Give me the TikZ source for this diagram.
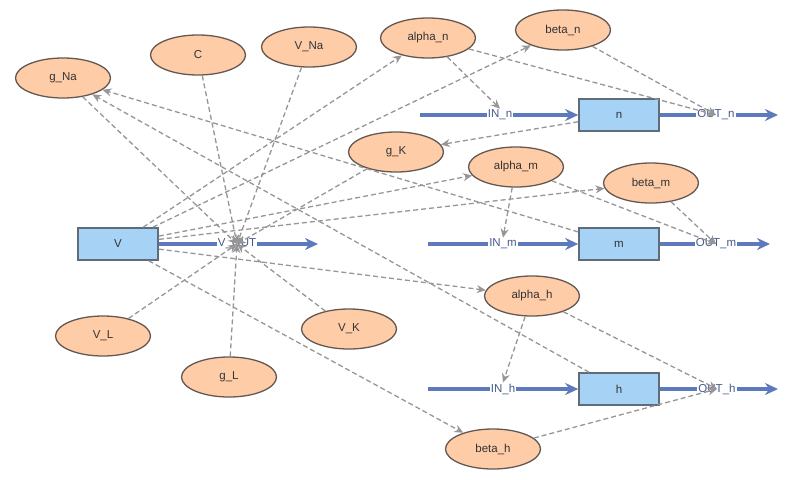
\documentclass[tikz,border=0pt]{standalone}
\usepackage{fontspec}
\setmainfont{Liberation Sans}
\usepackage{tikz}
\usetikzlibrary{shapes.geometric,arrows.meta}
\definecolor{peach}{RGB}{255,204,168}
\definecolor{ellborder}{RGB}{100,88,80}
\definecolor{boxblue}{RGB}{166,210,245}
\definecolor{boxborder}{RGB}{95,108,122}
\definecolor{flowblue}{RGB}{92,122,188}
\definecolor{portblue}{RGB}{70,90,140}
\definecolor{depgrey}{RGB}{150,150,150}

\begin{document}
\begin{tikzpicture}[x=1pt, y=-1pt, font=\fontsize{11.5}{13}\selectfont,
		param/.style={ellipse, draw=ellborder, line width=1.3pt, fill=peach, minimum width=95pt, minimum height=40pt, inner sep=0pt, text=black!80},
		state/.style={rectangle, draw=boxborder, line width=1.6pt, fill=boxblue, minimum width=80pt, minimum height=32pt, inner sep=0pt, text=black!80},
		port/.style={fill=white, inner sep=1pt, text=portblue},
		dep/.style={draw=depgrey, line width=1.3pt, dash pattern=on 5pt off 3pt, -{Stealth[length=9pt,width=8pt]}},
		flow/.style={draw=flowblue, line width=3.5pt, -{Stealth[length=13pt,width=12pt]}}]
				\useasboundingbox (0,0) rectangle (800,479);
				\node[param] (gNa) at (63,78) {g\_Na};
				\node[param] (C) at (198,55) {C};
				\node[param] (VNa) at (309,47) {V\_Na};
				\node[param] (alphan) at (428,38) {alpha\_n};
				\node[param] (betan) at (563,30) {beta\_n};
				\node[param] (gK) at (396,152) {g\_K};
				\node[param] (alpham) at (516,167) {alpha\_m};
				\node[param] (betam) at (651,183) {beta\_m};
				\node[param] (VL) at (103,336) {V\_L};
				\node[param] (gL) at (229,377) {g\_L};
				\node[param] (VK) at (349,329) {V\_K};
				\node[param] (alphah) at (532,296) {alpha\_h};
				\node[param] (betah) at (493,449) {beta\_h};
				\node[state] (V) at (118,244) {V};
				\node[state] (n) at (619,115) {n};
				\node[state] (m) at (619,244) {m};
				\node[state] (h) at (619,389) {h};
				\node[port] (VOUT) at (237,244) {V\_OUT};
				\node[port] (INn) at (500,115) {IN\_n};
				\node[port] (OUTn) at (716,115) {OUT\_n};
				\node[port] (INm) at (503,244) {IN\_m};
				\node[port] (OUTm) at (716,244) {OUT\_m};
				\node[port] (INh) at (503,389) {IN\_h};
				\node[port] (OUTh) at (717,389) {OUT\_h};
				\coordinate (Vend) at (318,244);
				\coordinate (nin) at (420,115);
				\coordinate (nend) at (778,115);
				\coordinate (min) at (428,244);
				\coordinate (mend) at (770,244);
				\coordinate (hin) at (428,389);
				\coordinate (hend) at (778,389);
				\draw[flow] (V) -- (VOUT) -- (Vend);
				\draw[flow] (nin) -- (INn) -- (n);
				\draw[flow] (n) -- (OUTn) -- (nend);
				\draw[flow] (min) -- (INm) -- (m);
				\draw[flow] (m) -- (OUTm) -- (mend);
				\draw[flow] (hin) -- (INh) -- (h);
				\draw[flow] (h) -- (OUTh) -- (hend);
				\draw[dep] (gNa) -- (VOUT.center);
				\draw[dep] (C) -- (VOUT.center);
				\draw[dep] (VNa) -- (VOUT.center);
				\draw[dep] (gK) -- (VOUT.center);
				\draw[dep] (VL) -- (VOUT.center);
				\draw[dep] (gL) -- (VOUT.center);
				\draw[dep] (VK) -- (VOUT.center);
				\draw[dep] (V) -- (alphan);
				\draw[dep] (V) -- (betan);
				\draw[dep] (V) -- (alpham);
				\draw[dep] (V) -- (betam);
				\draw[dep] (V) -- (alphah);
				\draw[dep] (V) -- (betah);
				\draw[dep] (n) -- (gK);
				\draw[dep] (m) -- (gNa);
				\draw[dep] (h) -- (gNa);
				\draw[dep] (alphan) -- (INn.north);
				\draw[dep] (alphan) -- (OUTn.center);
				\draw[dep] (betan) -- (OUTn.center);
				\draw[dep] (alpham) -- (INm.north);
				\draw[dep] (alpham) -- (OUTm.center);
				\draw[dep] (betam) -- (OUTm.center);
				\draw[dep] (alphah) -- (INh.north);
				\draw[dep] (alphah) -- (OUTh.center);
				\draw[dep] (betah) -- (OUTh.center);
			\end{tikzpicture}
\end{document}
